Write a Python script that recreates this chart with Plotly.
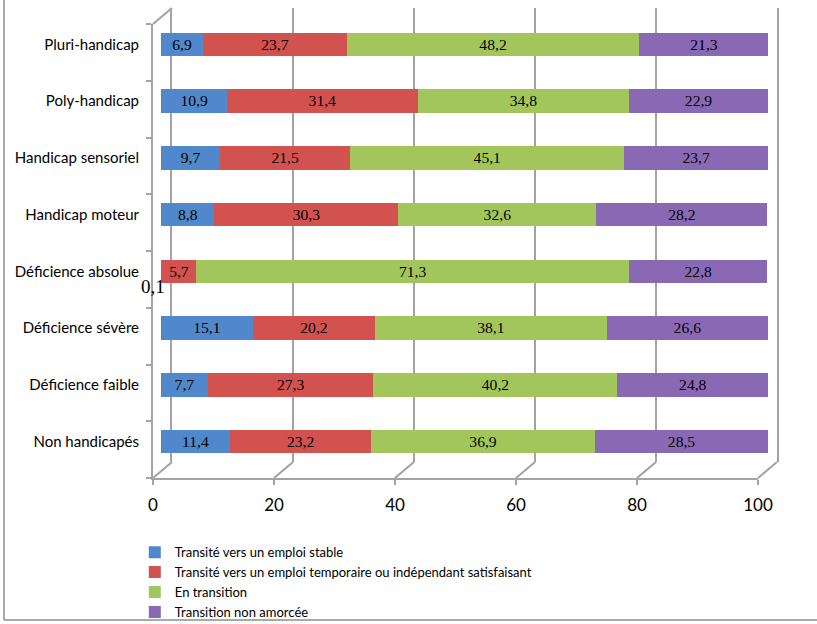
import plotly.graph_objects as go

W, H = 817, 624

categories = ["Pluri-handicap", "Poly-handicap", "Handicap sensoriel", "Handicap moteur",
              "Déficience absolue", "Déficience sévère", "Déficience faible", "Non handicapés"]
stable = [6.9, 10.9, 9.7, 8.8, 0.1, 15.1, 7.7, 11.4]
temporaire = [23.7, 31.4, 21.5, 30.3, 5.7, 20.2, 27.3, 23.2]
en_transition = [48.2, 34.8, 45.1, 32.6, 71.3, 38.1, 40.2, 36.9]
non_amorcee = [21.3, 22.9, 23.7, 28.2, 22.8, 26.6, 24.8, 28.5]
series_names = ["Transité vers un emploi stable",
                "Transité vers un emploi temporaire ou indépendant satisfaisant",
                "En transition",
                "Transition non amorcée"]
colors = ["#5088CB", "#D2524F", "#A2C65C", "#8A69B4"]
x_ticks = [0, 20, 40, 60, 80, 100]


def dx(a, b):
    return [a / W, b / W]


def dy(top, bottom):
    return [1 - bottom / H, 1 - top / H]


def fmt(v):
    return f"{v:.1f}".replace(".", ",")


LAT = "Lato, sans-serif"
SERIF = "Liberation Serif, serif"
GRID = "#A3A3A3"

back_x, back_y = dx(172, 777), dy(8, 462)
bar_x, bar_y = dx(161, 768), dy(16, 470)
front_x, front_y = dx(153, 758), dy(24, 478)

fig = go.Figure()

fig.add_trace(go.Scatter(x=[None], y=[None], xaxis="x", yaxis="y", showlegend=False,
                         hoverinfo="skip"))
fig.add_trace(go.Scatter(x=[None], y=[None], xaxis="x3", yaxis="y3", showlegend=False,
                         hoverinfo="skip"))

all_series = [stable, temporaire, en_transition, non_amorcee]
for name, vals, col in zip(series_names, all_series, colors):
    fig.add_trace(go.Bar(
        y=categories, x=vals, name=name, orientation="h",
        xaxis="x2", yaxis="y2",
        marker=dict(color=col, line=dict(width=0)),
        text=[fmt(v) if v >= 1 else "" for v in vals],
        textposition="inside", insidetextanchor="middle", textangle=0,
        textfont=dict(family=SERIF, size=19, color="#000000"),
        hoverinfo="skip",
    ))

annotations = []
for cat, v in zip(categories, stable):
    if v < 1:
        annotations.append(dict(x=0, y=cat, xref="x2", yref="y2", text=fmt(v),
                                showarrow=False, xanchor="center", xshift=-8, yshift=-15,
                                font=dict(family=SERIF, size=19, color="#000000")))

shapes = []
for v in x_ticks:
    fx = front_x[0] + v / 100 * (front_x[1] - front_x[0])
    bx = back_x[0] + v / 100 * (back_x[1] - back_x[0])
    shapes.append(dict(type="line", xref="paper", yref="paper",
                       x0=fx, y0=front_y[0], x1=bx, y1=back_y[0],
                       line=dict(color=GRID, width=2)))
shapes.append(dict(type="line", xref="paper", yref="paper",
                   x0=front_x[0], y0=front_y[1], x1=back_x[0], y1=back_y[1],
                   line=dict(color=GRID, width=2)))
# outer chart frame (left and bottom edges)
shapes.append(dict(type="line", xref="paper", yref="paper",
                   x0=4 / W, y0=1 - 620 / H, x1=4 / W, y1=1,
                   line=dict(color="#8C8C8C", width=1.5)))
shapes.append(dict(type="line", xref="paper", yref="paper",
                   x0=4 / W, y0=1 - 620 / H, x1=1, y1=1 - 620 / H,
                   line=dict(color="#8C8C8C", width=1.5)))

fig.update_layout(
    width=W, height=H, autosize=False,
    margin=dict(l=0, r=0, t=0, b=0, pad=0, autoexpand=False),
    paper_bgcolor="white", plot_bgcolor="rgba(0,0,0,0)",
    barmode="stack", bargap=0.59,
    showlegend=True,
    legend=dict(x=0.165, y=0.139, xanchor="left", yanchor="top",
                traceorder="normal", font=dict(family=LAT, size=13, color="#000000"),
                bgcolor="rgba(0,0,0,0)", itemwidth=30, tracegroupgap=0),
    xaxis=dict(domain=back_x, range=[0, 100], anchor="y", tickvals=x_ticks,
               showgrid=True, gridcolor=GRID, gridwidth=2, showticklabels=False,
               ticks="", zeroline=False, showline=False, fixedrange=True, automargin=False),
    yaxis=dict(domain=back_y, range=[0, 1], anchor="x", showgrid=False,
               showticklabels=False, ticks="", zeroline=False,
               showline=True, mirror=True, linecolor=GRID, linewidth=2, fixedrange=True,
               automargin=False),
    xaxis2=dict(domain=bar_x, range=[0, 100], anchor="y2", visible=False, fixedrange=True,
                automargin=False),
    yaxis2=dict(domain=bar_y, anchor="x2", type="category", categoryorder="array",
                categoryarray=categories, range=[len(categories) - 0.5, -0.5],
                ticks="outside", ticklen=18, tickcolor="rgba(0,0,0,0)",
                showline=False, showgrid=False, zeroline=False, automargin=False,
                tickfont=dict(family=LAT, size=15, color="#000000"), fixedrange=True),
    xaxis3=dict(domain=front_x, range=[0, 100], anchor="y3", tickvals=x_ticks,
                ticks="outside", ticklen=5, tickcolor=GRID, tickwidth=2,
                showline=True, linecolor=GRID, linewidth=2, showgrid=False, zeroline=False,
                ticklabelstandoff=6, automargin=False,
                tickfont=dict(family=LAT, size=17, color="#000000"), fixedrange=True),
    yaxis3=dict(domain=front_y, range=[0, len(categories)], anchor="x3",
                tickvals=list(range(len(categories) + 1)),
                ticks="outside", ticklen=5, tickcolor=GRID, tickwidth=2,
                showticklabels=False, showline=True, linecolor=GRID, linewidth=2,
                showgrid=False, zeroline=False, fixedrange=True, automargin=False),
    annotations=annotations,
    shapes=shapes,
)

fig.write_html("out.html",
               post_script="document.body.style.margin='0';"
                           "document.documentElement.style.overflow='hidden';")
